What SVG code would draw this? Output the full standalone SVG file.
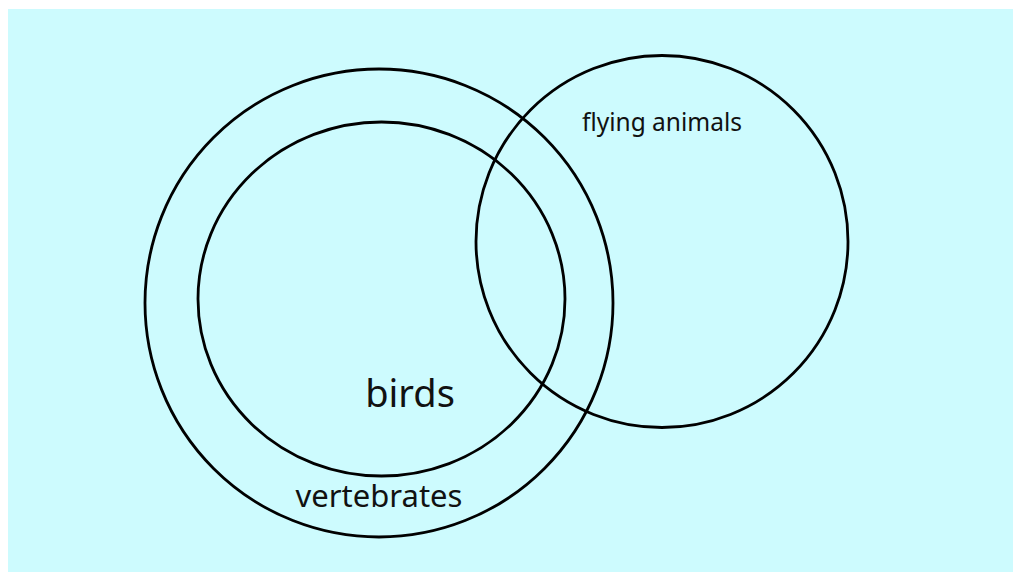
<svg xmlns="http://www.w3.org/2000/svg" width="1021" height="580" viewBox="0 0 1021 580">
<style>
.c{fill:none;stroke:#000;stroke-width:2.8}
.t{font-family:"Noto Sans","Open Sans",sans-serif;fill:#111}
</style>
<rect x="0" y="0" width="1021" height="580" fill="#fff"/>
<rect x="8" y="9" width="1005" height="563" fill="#cdfbfe"/>
<g id="vertebrates">
<circle class="c" cx="379" cy="303" r="234"/>
<text class="t" x="379" y="507" font-size="31" text-anchor="middle">vertebrates</text>
</g>
<g id="birds">
<ellipse class="c" cx="381.5" cy="299" rx="183.5" ry="177"/>
<text class="t" x="410" y="407" font-size="38" text-anchor="middle">birds</text>
</g>
<g id="flying-animals">
<circle class="c" cx="662" cy="241.5" r="186"/>
<text class="t" x="662" y="131" font-size="24.5" text-anchor="middle">flying animals</text>
</g>
<g id="connectors"/>
</svg>
